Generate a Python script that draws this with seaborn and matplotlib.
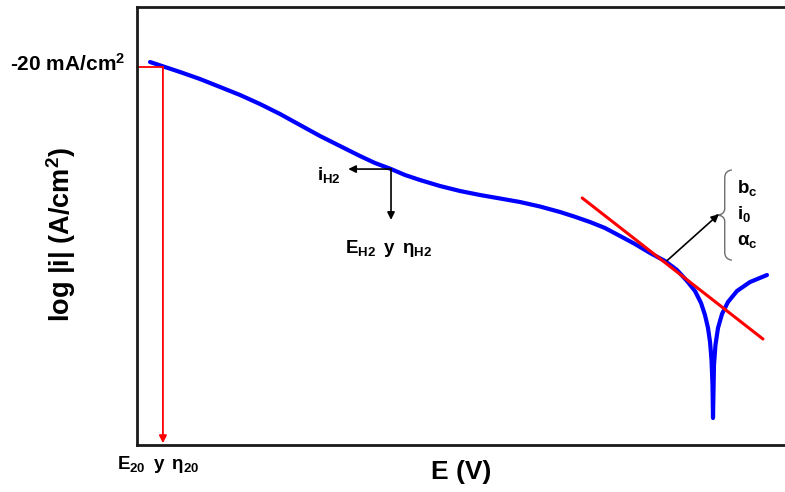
import matplotlib
matplotlib.use("Agg")
import matplotlib.pyplot as plt
import pandas as pd
import seaborn as sns
from matplotlib.path import Path
from matplotlib.patches import PathPatch

# Schematic cathodic polarisation curve, both axes in arbitrary units (0-100)
E_curve = [2.01, 4.32, 6.64, 9.72, 12.81, 15.90, 18.98, 22.07, 25.15, 28.24,
           31.33, 34.41, 36.73, 39.20, 41.36, 43.67, 46.76, 49.85, 52.93, 56.02,
           59.10, 62.19, 65.28, 67.59, 69.91, 72.22, 74.54, 76.85, 79.17, 81.48,
           83.33, 84.88, 86.11, 87.04, 87.65, 88.12, 88.43, 88.66, 88.81, 88.89,
           88.97, 89.04, 89.27, 89.66, 90.28, 91.20, 92.59, 94.60, 97.22]
logi_curve = [87.44, 86.30, 85.16, 83.56, 81.74, 79.91, 77.85, 75.57, 73.06, 70.55,
              68.26, 65.98, 64.38, 63.01, 61.64, 60.50, 59.13, 57.99, 57.08, 56.28,
              55.48, 54.45, 53.20, 52.10, 50.91, 49.54, 47.72, 45.89, 43.84, 42.01,
              39.95, 37.44, 35.16, 32.42, 29.68, 26.71, 23.52, 19.41, 13.70, 6.16,
              12.56, 18.26, 22.83, 26.71, 29.91, 32.65, 35.16, 37.21, 38.81]

# Tafel extrapolation line
E_tafel = [68.7, 96.6]
logi_tafel = [56.4, 24.2]

# Reference points
E_20, logi_20 = 4.0, 86.3        # -20 mA/cm2 operating point
E_H2, logi_H2 = 39.2, 63.0       # hydrogen evolution point
E_fit, logi_fit = 81.8, 42.1     # point on the Tafel region

curve = pd.DataFrame({"E": E_curve, "logi": logi_curve})
tafel = pd.DataFrame({"E": E_tafel, "logi": logi_tafel})

sns.set_style("white")
plt.rcParams["font.family"] = ["Liberation Sans", "DejaVu Sans"]
plt.rcParams["font.weight"] = "bold"
plt.rcParams["text.color"] = "black"
plt.rcParams["axes.labelcolor"] = "black"
plt.rcParams["mathtext.fontset"] = "custom"
plt.rcParams["mathtext.rm"] = "Liberation Sans:bold"
plt.rcParams["mathtext.it"] = "Liberation Sans:bold"
plt.rcParams["mathtext.bf"] = "Liberation Sans:bold"
plt.rcParams["mathtext.sf"] = "Liberation Sans:bold"

fig = plt.figure(figsize=(7.85, 4.92), dpi=100)
ax = fig.add_axes([137 / 785, 47 / 492, 648 / 785, 438 / 492])

sns.lineplot(data=curve, x="E", y="logi", sort=False, estimator=None,
             color="#0000ff", lw=3.0, ax=ax, solid_capstyle="round",
             solid_joinstyle="round")
sns.lineplot(data=tafel, x="E", y="logi", sort=False, estimator=None,
             color="#ff0000", lw=2.2, ax=ax, solid_capstyle="round")

ax.set_xlim(0, 100)
ax.set_ylim(0, 100)
ax.set_xticks([])
ax.set_yticks([])
for side in ("left", "top", "bottom"):
    ax.spines[side].set_linewidth(2.0)
    ax.spines[side].set_color("#1a1a1a")
ax.spines["right"].set_visible(False)

ax.set_xlabel("E (V)", fontsize=19, fontweight="bold", labelpad=11)
ax.set_ylabel(r"log |i| (A/cm$^{2}$)", fontsize=19.5, fontweight="bold")
ax.yaxis.set_label_coords(-0.091, 0.48)

# Red guide: current level and its projection on the potential axis
ax.plot([0, E_20], [logi_20, logi_20], color="#ff0000", lw=1.3, clip_on=False)
ax.annotate("", xy=(E_20, 0.4), xytext=(E_20, logi_20),
            arrowprops=dict(arrowstyle="-|>", color="#ff0000", lw=1.3,
                            mutation_scale=11, shrinkA=0, shrinkB=0))

# Black guides at the hydrogen point and from the Tafel region
arrow_k = dict(arrowstyle="-|>", color="black", lw=1.2, mutation_scale=11,
               shrinkA=0, shrinkB=0)
ax.annotate("", xy=(32.6, logi_H2), xytext=(E_H2, logi_H2), arrowprops=arrow_k)
ax.annotate("", xy=(E_H2, 51.4), xytext=(E_H2, logi_H2), arrowprops=arrow_k)
ax.annotate("", xy=(89.8, 52.7), xytext=(E_fit, logi_fit), arrowprops=arrow_k)

# Curly brace grouping the Tafel parameters
brace = Path(
    [(91.8, 62.8), (90.7, 62.6), (90.7, 61.0),
     (90.7, 54.0),
     (90.7, 52.5), (89.4, 52.5), (90.7, 52.5),
     (90.7, 51.0),
     (90.7, 44.0),
     (90.7, 42.4), (91.8, 42.2)],
    [Path.MOVETO, Path.CURVE3, Path.CURVE3,
     Path.LINETO,
     Path.CURVE3, Path.CURVE3, Path.CURVE3,
     Path.LINETO,
     Path.LINETO,
     Path.CURVE3, Path.CURVE3])
ax.add_patch(PathPatch(brace, facecolor="none", edgecolor="#6e6e6e", lw=1.0,
                       clip_on=False))

txt = dict(fontsize=13.5, fontweight="bold", color="black", clip_on=False)
ax.text(92.6, 57.5, r"$\mathbf{b_c}$", ha="left", va="baseline", **txt)
ax.text(92.6, 51.6, r"$\mathbf{i_0}$", ha="left", va="baseline", **txt)
ax.text(92.6, 45.7, r"$\mathbf{\alpha_c}$", ha="left", va="baseline", **txt)
ax.text(31.5, 60.5, r"$\mathbf{i_{H2}}$", ha="right", va="baseline", **txt)
ax.text(32.1, 43.9, r"$\mathbf{E_{H2}\ \,y\ \,\eta_{H2}}$", ha="left", va="baseline", **txt)
ax.text(-3.1, -5.4, r"$\mathbf{E_{20}\ \,y\ \,\eta_{20}}$", ha="left", va="baseline", **txt)
ax.text(-1.8, 85.4, r"-20 mA/cm$^{2}$", ha="right", va="baseline",
        fontsize=15, fontweight="bold", clip_on=False)

fig.savefig("out.png", dpi=100)
